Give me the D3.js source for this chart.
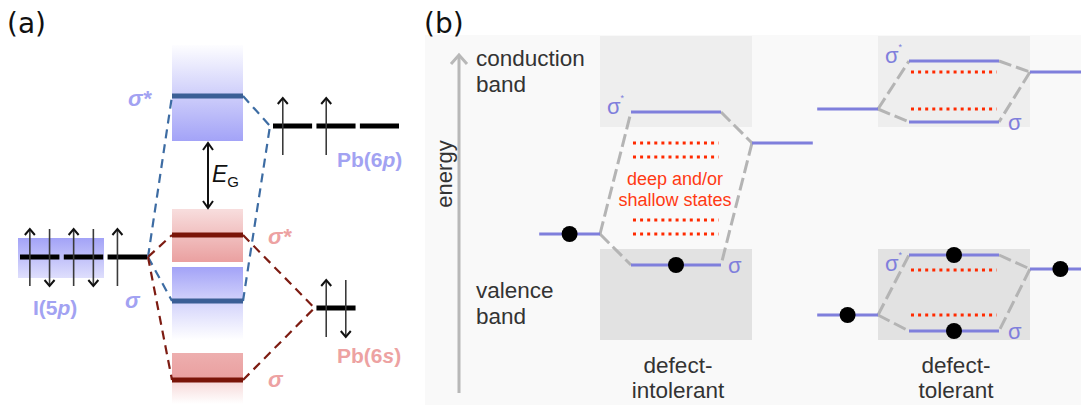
<!DOCTYPE html>
<html>
<head>
<meta charset="utf-8">
<script src="https://cdn.jsdelivr.net/npm/d3@7"></script>
<style>
  html, body { margin: 0; padding: 0; background: #fff; }
  svg { display: block; }
</style>
</head>
<body>
<svg id="fig" width="1081" height="405"></svg>
<script>
// ---------- Panel (a): Pb–I molecular-orbital levels (energy in arbitrary units) ----------
const aOrbitals      = ["I(5p)", "Pb(6p)", "Pb(6s)"];
const aOrbitalEnergy = [14.7, 27.8, 9.6];
const aOccupancy     = [[2, 2, 1], [1, 1, 0], [2]];

const aStateLabels   = ["σ*", "σ*", "σ", "σ"];
const aStatePartner  = ["Pb(6p)", "Pb(6s)", "Pb(6p)", "Pb(6s)"];
const aStateEnergy   = [30.8, 16.9, 10.3, 2.4];
const aBandTop       = [35.9, 19.5, 13.7, 5.1];
const aBandBottom    = [26.3, 14.2, 6.4, 0.0];

// ---------- Panel (b): defect-intolerant vs defect-tolerant ----------
const bCases        = ["defect-intolerant", "defect-tolerant"];
const bDiagramCase  = ["defect-intolerant", "defect-tolerant", "defect-tolerant"];
const bLeftLevel    = [16.6, 29.1, 8.5];
const bRightLevel   = [25.7, 32.8, 13.1];
const bAntibonding  = [28.8, 33.9, 14.5];
const bBonding      = [13.5, 27.8, 6.9];
const bDefectLevels = [[25.7, 24.3, 18.0, 16.6], [32.8, 29.1], [13.0, 8.5]];
const bElectrons    = [["left", "bonding"], [], ["left", "antibonding", "bonding", "right"]];
const bBandNames    = ["conduction band", "valence band"];
const bBandTop      = [36.4, 15.1];
const bBandBottom   = [27.3, 6.0];
const bDefectNote   = ["deep and/or", "shallow states"];

const svg = d3.select("#fig");
const defs = svg.append("defs");
const SANS = "'Liberation Sans', Arial, sans-serif";

// ---------- gradients ----------
function grad(id, color, stops) {
  const g = defs.append("linearGradient").attr("id", id)
    .attr("x1", 0).attr("y1", 0).attr("x2", 0).attr("y2", 1);
  stops.forEach(([off, op]) => g.append("stop")
    .attr("offset", off).attr("stop-color", color).attr("stop-opacity", op));
}
const BLUE_BAND = "#a3a3f7", RED_BAND = "#eaa0a0";
grad("g0", BLUE_BAND, [[0, 0.02], [1, 1]]);
grad("g1", RED_BAND, [[0, 0.35], [1, 1]]);
grad("g2", BLUE_BAND, [[0, 1], [0.5, 0.45], [1, 0]]);
grad("g3", RED_BAND, [[0, 0.85], [0.5, 1], [0.55, 0.4], [1, 0]]);
grad("gI", BLUE_BAND, [[0, 1], [1, 0.35]]);

// ======================= PANEL (a) =======================
const yA = d3.scaleLinear().domain([0, 36]).range([404, 44]);
const colX0 = 172, colX1 = 243;
const groupLeft  = d3.scaleBand().domain(d3.range(3)).range([20, 147]).paddingInner(0.1);
const groupRight = d3.scaleBand().domain(d3.range(3)).range([273, 399]).paddingInner(0.1);
const A_BLUE_LINE = "#3b5f96", A_RED_LINE = "#7a1408";
const A_BLUE_DASH = "#3d6ca3", A_RED_DASH = "#7d1c12";
const A_BLUE_TXT = "#a2a2f2", A_RED_TXT = "#eda2a2";

const gA = svg.append("g");

gA.append("text").attr("x", 7).attr("y", 33)
  .attr("font-family", "'DejaVu Sans', sans-serif").attr("font-size", 28)
  .attr("fill", "#111").text("(a)");

// bands of the central column
gA.selectAll("rect.band").data(aStateEnergy).join("rect")
  .attr("x", colX0).attr("width", colX1 - colX0)
  .attr("y", (d, i) => yA(aBandTop[i]))
  .attr("height", (d, i) => yA(aBandBottom[i]) - yA(aBandTop[i]))
  .attr("fill", (d, i) => `url(#g${i})`);

// I(5p) background block
const eI = aOrbitalEnergy[0];
gA.append("rect").attr("x", 18).attr("width", 86)
  .attr("y", yA(eI + 1.9)).attr("height", yA(eI - 2.1) - yA(eI + 1.9))
  .attr("fill", "url(#gI)");

// orbital end points used by connectors
const ePb6p = aOrbitalEnergy[1], ePb6s = aOrbitalEnergy[2];
const iEnd   = [groupLeft(2) + groupLeft.bandwidth() + 1, yA(eI)];
const p6End  = [groupRight(0) - 3, yA(ePb6p)];
const s6End  = [groupRight(1) - 2, yA(ePb6s)];

// dashed connectors from atomic orbitals to molecular states
aStateEnergy.forEach((e, i) => {
  const isBlue = aStatePartner[i] === "Pb(6p)";
  const partner = isBlue ? p6End : s6End;
  const color = isBlue ? A_BLUE_DASH : A_RED_DASH;
  const y = yA(e);
  const pts = [[iEnd, [colX0, y]], [[colX1, y], partner]];
  pts.forEach(seg => gA.append("path")
    .attr("d", d3.line()(seg))
    .attr("stroke", color).attr("stroke-width", 2.2)
    .attr("stroke-dasharray", "9 6").attr("fill", "none"));
});

// molecular state lines
gA.selectAll("line.state").data(aStateEnergy).join("line")
  .attr("x1", colX0).attr("x2", colX1)
  .attr("y1", d => yA(d)).attr("y2", d => yA(d))
  .attr("stroke", (d, i) => aStatePartner[i] === "Pb(6p)" ? A_BLUE_LINE : A_RED_LINE)
  .attr("stroke-width", 5);

// spin arrows
function spinArrow(g, x, yc, up) {
  const yTop = yc - 28, yBot = yc + 29;
  g.append("line").attr("x1", x).attr("x2", x).attr("y1", yTop).attr("y2", yBot)
    .attr("stroke", "#3a3a3a").attr("stroke-width", 1.6);
  const tip = up ? yTop : yBot, s = up ? 1 : -1;
  g.append("path").attr("d", `M${x - 5},${tip + 6 * s}L${x},${tip}L${x + 5},${tip + 6 * s}`)
    .attr("stroke", "#111").attr("stroke-width", 2).attr("fill", "none");
}

// atomic orbital bars with electrons
function drawOrbital(scale, indices, energy, occ) {
  const y = yA(energy);
  indices.forEach((k, j) => {
    const x0 = scale(k), w = scale.bandwidth();
    gA.append("line").attr("x1", x0).attr("x2", x0 + w).attr("y1", y).attr("y2", y)
      .attr("stroke", "#000").attr("stroke-width", 5);
    if (occ[j] >= 1) spinArrow(gA, x0 + w * 0.25, y, true);
    if (occ[j] >= 2) spinArrow(gA, x0 + w * 0.75, y, false);
  });
}
drawOrbital(groupLeft, [0, 1, 2], aOrbitalEnergy[0], aOccupancy[0]);
drawOrbital(groupRight, [0, 1, 2], aOrbitalEnergy[1], aOccupancy[1]);
drawOrbital(groupRight, [1], aOrbitalEnergy[2], aOccupancy[2]);

// band gap arrow
const egTop = yA(aBandBottom[0]) + 2, egBot = yA(aBandTop[1]) - 1, egX = 208;
gA.append("line").attr("x1", egX).attr("x2", egX).attr("y1", egTop).attr("y2", egBot)
  .attr("stroke", "#111").attr("stroke-width", 2);
gA.append("path").attr("d", `M${egX - 5},${egTop + 7}L${egX},${egTop}L${egX + 5},${egTop + 7}`)
  .attr("stroke", "#111").attr("stroke-width", 2).attr("fill", "none");
gA.append("path").attr("d", `M${egX - 5},${egBot - 7}L${egX},${egBot}L${egX + 5},${egBot - 7}`)
  .attr("stroke", "#111").attr("stroke-width", 2).attr("fill", "none");
const eg = gA.append("text").attr("x", 212).attr("y", 182)
  .attr("font-family", SANS).attr("font-size", 23).attr("fill", "#111");
eg.append("tspan").attr("font-style", "italic").text("E");
eg.append("tspan").attr("font-size", 15).attr("dy", 5).text("G");

// orbital labels
function orbLabel(x, y, name, color) {
  const m = name.match(/^(.*\()(\d)([a-z])(\))$/);
  const t = gA.append("text").attr("x", x).attr("y", y)
    .attr("font-family", SANS).attr("font-size", 21).attr("font-weight", "bold").attr("fill", color);
  t.append("tspan").text(m[1] + m[2]);
  t.append("tspan").attr("font-style", "italic").text(m[3]);
  t.append("tspan").text(m[4]);
}
orbLabel(33, yA(aOrbitalEnergy[0]) + 58, aOrbitals[0], A_BLUE_TXT);
orbLabel(337, yA(aOrbitalEnergy[1]) + 41, aOrbitals[1], A_BLUE_TXT);
orbLabel(337, yA(aOrbitalEnergy[2]) + 55, aOrbitals[2], A_RED_TXT);

// state labels
aStateEnergy.forEach((e, i) => {
  const isBlue = aStatePartner[i] === "Pb(6p)";
  const y = yA(e);
  const x = isBlue ? colX0 - (aStateLabels[i] === "σ*" ? 44 : 47) : colX1 + 25;
  const dy = isBlue ? (aStateLabels[i] === "σ*" ? 10 : 7) : (aStateLabels[i] === "σ*" ? 9 : 7);
  gA.append("text").attr("x", x).attr("y", y + dy)
    .attr("font-family", SANS).attr("font-size", 22).attr("font-weight", "bold")
    .attr("font-style", "italic")
    .attr("fill", isBlue ? A_BLUE_TXT : A_RED_TXT).text(aStateLabels[i]);
});

// ======================= PANEL (b) =======================
const yB = d3.scaleLinear().domain([0, 36]).range([400, 40]);
const xB = d3.scaleBand().domain(bCases).range([600, 1030]).paddingInner(126 / 278);
const bw = xB.bandwidth();
const B_LINE = "#7f7fdc", B_DASH = "#b4b4b4", B_DEFECT = "#ff2a00", B_TXT = "#333";

const gB = svg.append("g");
gB.append("rect").attr("x", 425).attr("y", 35).attr("width", 1081 - 425).attr("height", 370)
  .attr("fill", "#f9f9f9");
gB.append("text").attr("x", 424).attr("y", 33)
  .attr("font-family", "'DejaVu Sans', sans-serif").attr("font-size", 28)
  .attr("fill", "#111").text("(b)");

// band regions behind every case
bCases.forEach(c => {
  bBandNames.forEach((n, k) => {
    gB.append("rect").attr("x", xB(c)).attr("width", bw)
      .attr("y", yB(bBandTop[k])).attr("height", yB(bBandBottom[k]) - yB(bBandTop[k]))
      .attr("fill", k === 0 ? "#eeeeee" : "#e2e2e2");
  });
});

// energy axis arrow
const axX = 459;
gB.append("line").attr("x1", axX).attr("x2", axX).attr("y1", 393).attr("y2", 56)
  .attr("stroke", "#b8b8b8").attr("stroke-width", 3);
gB.append("path").attr("d", `M${axX - 8},${64}L${axX},${55}L${axX + 8},${64}`)
  .attr("stroke", "#b8b8b8").attr("stroke-width", 3).attr("fill", "none");
gB.append("text").attr("transform", `translate(452,174) rotate(-90)`)
  .attr("text-anchor", "middle").attr("font-family", SANS).attr("font-size", 22)
  .attr("fill", B_TXT).text("energy");

// band names
bBandNames.forEach((n, k) => {
  const words = n.split(" ");
  const base = k === 0 ? yB(bBandTop[k]) + 30 : yB(bBandTop[k]) + 49;
  words.forEach((w, j) => gB.append("text").attr("x", 476).attr("y", base + j * 26)
    .attr("font-family", SANS).attr("font-size", 22.5).attr("fill", B_TXT).text(w));
});

// case names
bCases.forEach(c => {
  const [w1, w2] = [c.slice(0, c.indexOf("-") + 1), c.slice(c.indexOf("-") + 1)];
  [w1, w2].forEach((w, j) => gB.append("text").attr("x", xB(c) + bw / 2 + 2).attr("y", 373 + j * 25)
    .attr("text-anchor", "middle").attr("font-family", SANS).attr("font-size", 22.5)
    .attr("fill", B_TXT).text(w));
});

// bonding diagrams
bDiagramCase.forEach((c, i) => {
  const bx = xB(c);
  const seg = {
    left: [bx - 0.4 * bw, bx, bLeftLevel[i]],
    right: [bx + bw, bx + 1.4 * bw, bRightLevel[i]],
    antibonding: [bx + 0.204 * bw, bx + 0.796 * bw, bAntibonding[i]],
    bonding: [bx + 0.204 * bw, bx + 0.796 * bw, bBonding[i]]
  };
  const g = gB.append("g");

  // dashed correlation lines
  const L = [seg.left[1], yB(seg.left[2])], R = [seg.right[0], yB(seg.right[2])];
  [[L, [seg.antibonding[0], yB(seg.antibonding[2])]],
   [L, [seg.bonding[0], yB(seg.bonding[2])]],
   [[seg.antibonding[1], yB(seg.antibonding[2])], R],
   [R, [seg.bonding[1], yB(seg.bonding[2])]]].forEach(p => g.append("path")
     .attr("d", d3.line()(p)).attr("stroke", B_DASH).attr("stroke-width", 3)
     .attr("stroke-dasharray", "13 5").attr("fill", "none"));

  // defect states
  g.selectAll("line.defect").data(bDefectLevels[i]).join("line")
    .attr("x1", bx + 0.217 * bw).attr("x2", bx + 0.78 * bw)
    .attr("y1", d => yB(d)).attr("y2", d => yB(d))
    .attr("stroke", B_DEFECT).attr("stroke-width", 3).attr("stroke-dasharray", "3 4.1");

  // energy levels
  Object.values(seg).forEach(([x0, x1, e]) => g.append("line")
    .attr("x1", x0).attr("x2", x1).attr("y1", yB(e)).attr("y2", yB(e))
    .attr("stroke", B_LINE).attr("stroke-width", 3));

  // labels
  const yAB = yB(bAntibonding[i]), yBo = yB(bBonding[i]);
  const abShift = bElectrons[i].includes("antibonding") ? 16 : 2;
  const t = g.append("text").attr("x", seg.antibonding[0] - 7).attr("y", yAB + abShift)
    .attr("text-anchor", "end").attr("font-family", SANS).attr("font-size", 22).attr("fill", B_LINE);
  t.append("tspan").text("σ");
  t.append("tspan").attr("font-size", 9).attr("dy", -13).text("*");
  g.append("text").attr("x", seg.bonding[1] + (i === 0 ? 7 : 9)).attr("y", yBo + 8)
    .attr("font-family", SANS).attr("font-size", 22).attr("fill", B_LINE).text("σ");

  // electrons
  bElectrons[i].forEach(k => {
    const [x0, x1, e] = seg[k];
    g.append("circle").attr("cx", (x0 + x1) / 2).attr("cy", yB(e)).attr("r", 8).attr("fill", "#000");
  });
});

// note between the defect levels of the intolerant case
const noteX = xB(bCases[0]) + bw / 2 - 1;
bDefectNote.forEach((w, j) => gB.append("text")
  .attr("x", noteX).attr("y", 185 + j * 21)
  .attr("text-anchor", "middle").attr("font-family", SANS).attr("font-size", 18)
  .attr("fill", "#ff3a14").text(w));
</script>
</body>
</html>
